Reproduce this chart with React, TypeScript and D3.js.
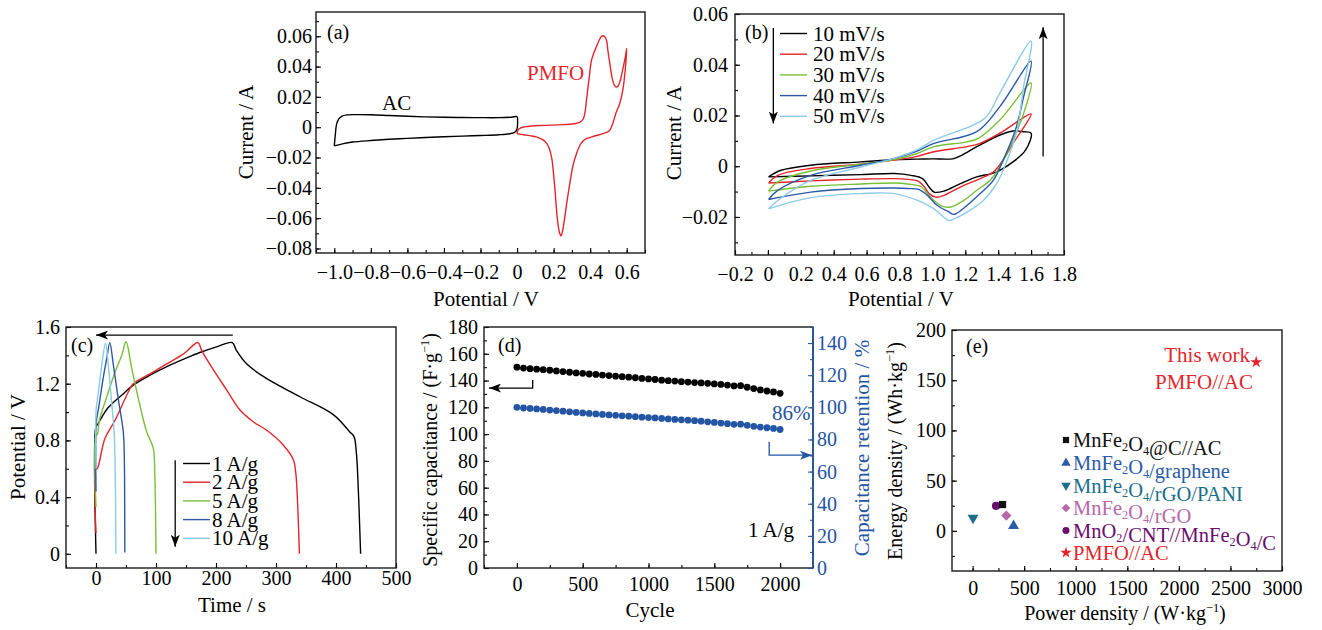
import React, { useEffect, useRef } from "react";
import * as d3 from "d3";

const FONT = "'Liberation Serif', 'Times New Roman', Times, serif";
const RED = "#e3262b";
const GREEN = "#7abf3a";
const BLUE = "#2b58a8";
const LIGHT = "#8ccbe8";
const DBLUE = "#2454a4";

// (a) CV of the single electrodes
const acV = [-1.0, -0.995, -0.987, -0.975, -0.96, -0.93, -0.88, -0.8, -0.7, -0.6, -0.5, -0.4, -0.3, -0.2, -0.1, -0.03, 0.0, 0.003, 0.0, -0.01, -0.04, -0.1, -0.2, -0.3, -0.4, -0.5, -0.6, -0.7, -0.8, -0.9, -0.95, -1.0];
const acI = [-0.0123, -0.006, 0.0022, 0.0055, 0.0072, 0.0081, 0.0083, 0.0082, 0.0077, 0.0072, 0.0068, 0.0066, 0.0064, 0.0063, 0.0063, 0.0066, 0.0069, 0.004, -0.001, -0.0032, -0.0043, -0.005, -0.0055, -0.0059, -0.0063, -0.0068, -0.0074, -0.008, -0.0088, -0.0098, -0.0108, -0.0123];
const pmfoV = [0.0, 0.005, 0.02, 0.04, 0.08, 0.15, 0.25, 0.32, 0.345, 0.362, 0.372, 0.38, 0.393, 0.407, 0.42, 0.434, 0.448, 0.461, 0.47, 0.479, 0.49, 0.497, 0.51, 0.521, 0.532, 0.542, 0.552, 0.565, 0.58, 0.592, 0.6, 0.592, 0.579, 0.56, 0.542, 0.525, 0.506, 0.47, 0.42, 0.38, 0.36, 0.344, 0.325, 0.307, 0.29, 0.271, 0.258, 0.248, 0.24, 0.233, 0.226, 0.217, 0.208, 0.199, 0.19, 0.175, 0.163, 0.14, 0.108, 0.07, 0.036, 0.01, 0.0];
const pmfoI = [-0.0043, -0.002, -0.0005, 0.0002, 0.0008, 0.0012, 0.0017, 0.0024, 0.0034, 0.0054, 0.01, 0.018, 0.031, 0.044, 0.049, 0.053, 0.057, 0.0598, 0.0603, 0.0598, 0.057, 0.0506, 0.04, 0.032, 0.0278, 0.0265, 0.027, 0.031, 0.039, 0.046, 0.052, 0.038, 0.0248, 0.015, 0.0097, 0.003, -0.0022, -0.0043, -0.006, -0.0076, -0.0092, -0.0119, -0.0175, -0.0248, -0.036, -0.0507, -0.062, -0.069, -0.0718, -0.07, -0.0658, -0.056, -0.042, -0.03, -0.0205, -0.0135, -0.0108, -0.0082, -0.0065, -0.0056, -0.005, -0.0045, -0.0043];
const aXTicks = [-1.0, -0.8, -0.6, -0.4, -0.2, 0, 0.2, 0.4, 0.6];
const aYTicks = [-0.08, -0.06, -0.04, -0.02, 0, 0.02, 0.04, 0.06];

// (b) CV of the device at several scan rates
const cvRates = ["10 mV/s", "20 mV/s", "30 mV/s", "40 mV/s", "50 mV/s"];
const cv10V = [0.004, 0.08, 0.26, 0.565, 0.767, 0.9, 1.0, 1.13, 1.18, 1.27, 1.41, 1.49, 1.555, 1.6, 1.566, 1.49, 1.41, 1.36, 1.27, 1.17, 1.07, 1.01, 0.98, 0.94, 0.87, 0.77, 0.565, 0.26, 0.004];
const cv10I = [-0.0042, -0.0016, 0.0004, 0.0017, 0.0026, 0.0028, 0.0029, 0.003, 0.0044, 0.0077, 0.0123, 0.0139, 0.0136, 0.013, 0.0063, 0.0017, -0.0016, -0.0029, -0.0042, -0.0069, -0.0098, -0.0102, -0.0082, -0.0049, -0.0036, -0.0029, -0.0033, -0.0038, -0.0042];
const cv20V = [0.004, 0.06, 0.26, 0.565, 0.767, 0.9, 1.01, 1.21, 1.29, 1.41, 1.6, 1.545, 1.49, 1.43, 1.37, 1.29, 1.17, 1.07, 1.02, 0.98, 0.95, 0.91, 0.85, 0.77, 0.565, 0.26, 0.004];
const cv20I = [-0.0066, -0.0036, -0.0009, 0.0008, 0.0024, 0.0038, 0.0057, 0.0077, 0.009, 0.013, 0.0206, 0.0143, 0.009, 0.0024, -0.0023, -0.0049, -0.0082, -0.0115, -0.0122, -0.0108, -0.008, -0.0058, -0.0052, -0.0049, -0.0051, -0.0058, -0.0066];
const cv30V = [0.004, 0.06, 0.26, 0.565, 0.767, 0.9, 1.01, 1.21, 1.28, 1.41, 1.6, 1.555, 1.49, 1.41, 1.35, 1.27, 1.19, 1.11, 1.05, 1.01, 0.97, 0.93, 0.85, 0.77, 0.565, 0.26, 0.004];
const cv30I = [-0.0098, -0.0062, -0.0019, 0.0008, 0.0026, 0.0048, 0.0077, 0.0096, 0.011, 0.0182, 0.0328, 0.0209, 0.0103, -0.0003, -0.0056, -0.0095, -0.0135, -0.0161, -0.0155, -0.0135, -0.0108, -0.008, -0.007, -0.0066, -0.007, -0.0079, -0.0098];
const cv40V = [0.004, 0.06, 0.26, 0.565, 0.767, 0.9, 1.01, 1.27, 1.41, 1.6, 1.555, 1.505, 1.43, 1.37, 1.29, 1.21, 1.13, 1.1, 1.03, 0.97, 0.92, 0.85, 0.77, 0.565, 0.26, 0.004];
const cv40I = [-0.0131, -0.0095, -0.0036, 0.0004, 0.0031, 0.0058, 0.009, 0.0136, 0.0235, 0.0414, 0.0275, 0.0143, 0.0024, -0.0056, -0.0108, -0.0155, -0.019, -0.018, -0.0155, -0.0115, -0.0092, -0.0088, -0.0086, -0.0088, -0.0102, -0.0131];
const cv50V = [0.004, 0.06, 0.26, 0.565, 0.767, 0.9, 1.01, 1.25, 1.33, 1.41, 1.6, 1.555, 1.515, 1.455, 1.39, 1.31, 1.21, 1.13, 1.1, 1.07, 1.01, 0.91, 0.77, 0.565, 0.26, 0.004];
const cv50I = [-0.0168, -0.0135, -0.0056, -0.0003, 0.0031, 0.0062, 0.0103, 0.0163, 0.0196, 0.0288, 0.0493, 0.0315, 0.0143, 0.0024, -0.0069, -0.0135, -0.0181, -0.0208, -0.0214, -0.0201, -0.0168, -0.0135, -0.0108, -0.0108, -0.0124, -0.0168];
const bXTicks = [-0.2, 0, 0.2, 0.4, 0.6, 0.8, 1.0, 1.2, 1.4, 1.6, 1.8];
const bYTicks = [-0.02, 0, 0.02, 0.04, 0.06];

// (c) galvanostatic charge/discharge
const gcdLabels = ["1 A/g", "2 A/g", "5 A/g", "8 A/g", "10 A/g"];
const gcd1T = [0, 0, 2, 20, 43, 62, 90, 118, 150, 173, 201, 227, 234, 251, 284, 340, 396, 423, 430, 434, 437, 441];
const gcd1V = [0, 0.9, 0.91, 1.03, 1.12, 1.19, 1.26, 1.32, 1.38, 1.42, 1.46, 1.49, 1.435, 1.34, 1.237, 1.108, 0.98, 0.86, 0.827, 0.71, 0.475, 0];
const gcd2T = [0, 0, 2, 15, 32, 54, 62, 90, 118, 146, 170, 176, 196, 218, 240, 262, 284, 312, 329, 333, 336, 339];
const gcd2V = [0.145, 0.6, 0.6, 0.815, 0.944, 1.143, 1.2, 1.27, 1.34, 1.41, 1.49, 1.435, 1.295, 1.155, 1.014, 0.932, 0.873, 0.768, 0.663, 0.569, 0.358, 0];
const gcd5T = [0, 0, 2, 6, 15, 32, 43, 50, 59.5, 70.5, 84.5, 95.5, 98, 100];
const gcd5V = [0.33, 0.838, 0.84, 0.95, 1.07, 1.284, 1.4, 1.496, 1.31, 1.097, 0.86, 0.744, 0.556, 0];
const gcd8T = [0, 0, 1.5, 4, 12, 18, 23, 29, 37, 45.5, 47, 48];
const gcd8V = [0.44, 0.9, 0.96, 1.02, 1.24, 1.38, 1.49, 1.33, 1.097, 0.86, 0.72, 0.01];
const gcd10T = [0, 0, 2, 4, 9.5, 16, 20.5, 26, 30.5, 33];
const gcd10V = [0.6, 1.0, 1.08, 1.14, 1.33, 1.485, 1.33, 1.07, 0.84, 0];
const cXTicks = [0, 100, 200, 300, 400, 500];
const cYTicks = [0, 0.4, 0.8, 1.2, 1.6];

// (d) cycling stability
const cycles = [0, 50, 100, 150, 200, 250, 300, 350, 400, 450, 500, 550, 600, 650, 700, 750, 800, 850, 900, 950, 1000, 1050, 1100, 1150, 1200, 1250, 1300, 1350, 1400, 1450, 1500, 1550, 1600, 1650, 1700, 1750, 1800, 1850, 1900, 1950, 2000];
const capacitance = [150, 149.3, 148.9, 148.5, 148.1, 147.7, 147.2, 146.7, 146.2, 145.7, 145.4, 144.9, 144.6, 144.1, 143.7, 143.3, 142.9, 142.5, 142.1, 141.6, 141.2, 140.8, 140.3, 139.9, 139.6, 139.2, 138.9, 138.5, 138.2, 137.9, 137.5, 137.1, 136.6, 136.0, 136.2, 135.0, 134.0, 133.0, 132.2, 131.5, 130.5];
const retention = [100, 99.6, 99.3, 99.0, 98.7, 98.3, 98.0, 97.6, 97.2, 96.8, 96.5, 96.2, 95.9, 95.6, 95.3, 95.0, 94.7, 94.5, 94.2, 93.9, 93.6, 93.4, 93.1, 92.8, 92.5, 92.2, 92.0, 91.7, 91.4, 91.0, 90.6, 90.2, 89.8, 89.4, 89.5, 88.8, 88.2, 87.7, 87.3, 86.9, 86.2];
const dXTicks = [0, 500, 1000, 1500, 2000];
const dYTicks = [0, 20, 40, 60, 80, 100, 120, 140, 160, 180];
const dY2Ticks = [0, 20, 40, 60, 80, 100, 120, 140];

// (e) Ragone plot
const ragoneLabels = ["MnFe_2O_4@C//AC", "MnFe_2O_4/graphene", "MnFe_2O_4/rGO/PANI", "MnFe_2O_4/rGO", "MnO_2/CNT//MnFe_2O_4/C", "PMFO//AC"];
const ragonePower = [290, 397, 4, 327, 227, 2750];
const ragoneEnergy = [26.2, 4.9, 12.9, 15.2, 24.8, 168];
const ragoneColors = ["#111111", "#2a5ca8", "#1b6f8c", "#b569a9", "#6a0d6d", RED];
const ragoneShapes = ["square", "up", "down", "diamond", "circle", "star"];
const eXTicks = [0, 500, 1000, 1500, 2000, 2500, 3000];
const eYTicks = [0, 50, 100, 150, 200];

const fmt = (digits: number) => (d: any) => {
  const v = +d;
  if (Math.abs(v) < 1e-9) return "0";
  return (v < 0 ? "\u2212" : "") + Math.abs(v).toFixed(digits);
};

function symbolPath(shape: string, size: number) {
  const map: any = {
    square: d3.symbolSquare,
    up: d3.symbolTriangle,
    down: d3.symbolTriangle,
    diamond: d3.symbolSquare,
    circle: d3.symbolCircle,
    star: d3.symbolStar,
  };
  return d3.symbol().type(map[shape]).size(size)() as string;
}
function symbolRotate(shape: string) {
  if (shape === "down") return 180;
  if (shape === "diamond") return 45;
  return 0;
}

function text(g: any, x: number, y: number, s: string, o: any = {}) {
  return g
    .append("text")
    .attr("x", x)
    .attr("y", y)
    .attr("font-family", FONT)
    .attr("font-size", o.size || 21)
    .attr("fill", o.color || "#000")
    .attr("text-anchor", o.anchor || "start")
    .text(s);
}

// title ending in a "-1" superscript and a closing bracket
function supTitle(g: any, tx: number, ty: number, rot: boolean, head: string, color = "#000", size = 21) {
  const t = g
    .append("text")
    .attr("transform", `translate(${tx},${ty})${rot ? " rotate(-90)" : ""}`)
    .attr("text-anchor", "middle")
    .attr("font-family", FONT)
    .attr("font-size", size)
    .attr("fill", color);
  t.append("tspan").text(head);
  t.append("tspan").attr("font-size", size * 0.62).attr("dy", -size * 0.38).text("\u22121");
  t.append("tspan").attr("dy", size * 0.38).text(")");
  return t;
}

function plainTitle(g: any, tx: number, ty: number, rot: boolean, s: string, color = "#000", size = 21) {
  return g
    .append("text")
    .attr("transform", `translate(${tx},${ty})${rot ? " rotate(-90)" : ""}`)
    .attr("text-anchor", "middle")
    .attr("font-family", FONT)
    .attr("font-size", size)
    .attr("fill", color)
    .text(s);
}

function subText(g: any, x: number, y: number, s: string, color: string, size = 21) {
  const t = g.append("text").attr("x", x).attr("y", y).attr("font-family", FONT).attr("font-size", size).attr("fill", color);
  const parts = s.split(/_(\d)/);
  parts.forEach((p, i) => {
    if (!p) return;
    if (i % 2 === 1) {
      t.append("tspan").attr("font-size", size * 0.6).attr("dy", size * 0.2).text(p);
      t.append("tspan").attr("dy", -size * 0.2).text("");
    } else {
      t.append("tspan").text(p);
    }
  });
}

function panel(root: any, f: any, o: any) {
  const g = root.append("g");
  const x = d3.scaleLinear().domain(o.xDomain).range([f.l, f.r]);
  const y = d3.scaleLinear().domain(o.yDomain).range([f.b, f.t]);
  const style = (s: any) => s.attr("font-size", 20).attr("font-family", FONT).style("color", "#000");

  g.append("g")
    .attr("transform", `translate(0,${f.b})`)
    .call(d3.axisBottom(x).tickValues(o.xMinor).tickSize(-3).tickFormat(() => ""));
  g.append("g")
    .attr("transform", `translate(0,${f.b})`)
    .call(d3.axisBottom(x).tickValues(o.xTicks).tickSize(-5).tickPadding(o.xPad).tickFormat(o.xFmt))
    .call(style);
  g.append("g")
    .attr("transform", `translate(${f.l},0)`)
    .call(d3.axisLeft(y).tickValues(o.yMinor).tickSize(-3).tickFormat(() => ""));
  g.append("g")
    .attr("transform", `translate(${f.l},0)`)
    .call(d3.axisLeft(y).tickValues(o.yTicks).tickSize(-5).tickPadding(o.yPad).tickFormat(o.yFmt))
    .call(style);
  g.selectAll(".domain").remove();
  g.selectAll(".tick line").attr("stroke-width", 1.1);

  g.append("rect")
    .attr("x", f.l)
    .attr("y", f.t)
    .attr("width", f.r - f.l)
    .attr("height", f.b - f.t)
    .attr("fill", "none")
    .attr("stroke", "#1a1a1a")
    .attr("stroke-width", 1.4);
  return { g, x, y };
}

const range = (a: number, b: number, s: number) => d3.range(a, b + s / 2, s);

export default function App() {
  const ref = useRef<SVGSVGElement>(null);

  useEffect(() => {
    const svg = d3.select(ref.current);
    svg.selectAll("*").remove();
    svg.append("rect").attr("width", 1322).attr("height", 630).attr("fill", "#fff");

    const defs = svg.append("defs");
    [["ahk", "#000"], ["ahb", DBLUE]].forEach(([id, c]) => {
      defs
        .append("marker")
        .attr("id", id)
        .attr("viewBox", "0 0 12 9")
        .attr("refX", 12)
        .attr("refY", 4.5)
        .attr("markerWidth", 12)
        .attr("markerHeight", 9)
        .attr("markerUnits", "userSpaceOnUse")
        .attr("orient", "auto")
        .append("path")
        .attr("d", "M0,0L12,4.5L0,9L3,4.5Z")
        .attr("fill", c);
    });

    const arrow = (g: any, pts: [number, number][], color: string, id: string) =>
      g
        .append("path")
        .attr("d", d3.line()(pts))
        .attr("fill", "none")
        .attr("stroke", color)
        .attr("stroke-width", 1.3)
        .attr("marker-end", `url(#${id})`);

    const curve = d3.curveCatmullRom.alpha(0.5);
    const drawLine = (g: any, x: any, y: any, xs: number[], ys: number[], color: string, w = 1.4) =>
      g
        .append("path")
        .datum(d3.zip(xs, ys))
        .attr("d", d3.line<number[]>().x((d) => x(d[0])).y((d) => y(d[1])).curve(curve))
        .attr("fill", "none")
        .attr("stroke", color)
        .attr("stroke-width", w)
        .attr("stroke-linejoin", "round");

    // ---------- (a)
    {
      const { g, x, y } = panel(svg, { l: 316, r: 645, t: 12, b: 253 }, {
        xDomain: [-1.1, 0.7], yDomain: [-0.083, 0.076],
        xTicks: aXTicks, xMinor: range(-1.1, 0.7, 0.1), yTicks: aYTicks, yMinor: range(-0.08, 0.07, 0.01),
        xFmt: fmt(1), yFmt: fmt(2), xPad: 12, yPad: 4,
      });
      drawLine(g, x, y, acV, acI, "#000");
      drawLine(g, x, y, pmfoV, pmfoI, RED);
      text(g, 327, 39, "(a)", { size: 20 });
      text(g, 382, 110, "AC");
      text(g, 527, 80, "PMFO", { color: RED });
      plainTitle(g, 486, 306, false, "Potential / V");
      plainTitle(g, 253, 132, true, "Current / A");
    }

    // ---------- (b)
    {
      const { g, x, y } = panel(svg, { l: 735, r: 1064, t: 14, b: 255 }, {
        xDomain: [-0.2, 1.8], yDomain: [-0.035, 0.06],
        xTicks: bXTicks, xMinor: range(-0.2, 1.8, 0.1), yTicks: bYTicks, yMinor: range(-0.03, 0.06, 0.01),
        xFmt: fmt(1), yFmt: fmt(2), xPad: 12, yPad: 7,
      });
      const loops = [[cv10V, cv10I], [cv20V, cv20I], [cv30V, cv30I], [cv40V, cv40I], [cv50V, cv50I]];
      const colors = ["#000", RED, GREEN, BLUE, LIGHT];
      loops.forEach(([v, i], k) => drawLine(g, x, y, v, i, colors[k]));
      cvRates.forEach((r, k) => {
        const cy = 33.5 + k * 20.7;
        g.append("line").attr("x1", 780).attr("x2", 807).attr("y1", cy).attr("y2", cy).attr("stroke", colors[k]).attr("stroke-width", 1.4);
        text(g, 813, cy + 7, r);
      });
      arrow(g, [[x(0.033), y(0.0545)], [x(0.033), y(0.0168)]], "#000", "ahk");
      arrow(g, [[x(1.673), y(0.0038)], [x(1.673), y(0.0548)]], "#000", "ahk");
      text(g, 745, 39, "(b)", { size: 20 });
      plainTitle(g, 901, 306, false, "Potential / V");
      plainTitle(g, 681, 133, true, "Current / A");
    }

    // ---------- (c)
    {
      const { g, x, y } = panel(svg, { l: 66, r: 396, t: 327, b: 568 }, {
        xDomain: [-50, 500], yDomain: [-0.1, 1.6],
        xTicks: cXTicks, xMinor: range(-50, 500, 50), yTicks: cYTicks, yMinor: range(0, 1.6, 0.2),
        xFmt: fmt(0), yFmt: fmt(1), xPad: 3, yPad: 6,
      });
      const runs = [[gcd1T, gcd1V], [gcd2T, gcd2V], [gcd5T, gcd5V], [gcd8T, gcd8V], [gcd10T, gcd10V]];
      const colors = ["#000", RED, GREEN, BLUE, LIGHT];
      runs.forEach(([t, v], k) => drawLine(g, x, y, t, v, colors[k]));
      gcdLabels.forEach((s, k) => {
        const cy = 463.5 + k * 18.7;
        g.append("line").attr("x1", 183).attr("x2", 210).attr("y1", cy).attr("y2", cy).attr("stroke", colors[k]).attr("stroke-width", 1.4);
        text(g, 212, cy + 7, s);
      });
      arrow(g, [[x(228), y(1.543)], [x(0), y(1.543)]], "#000", "ahk");
      arrow(g, [[x(132), y(0.66)], [x(132), y(0.05)]], "#000", "ahk");
      text(g, 71, 352, "(c)", { size: 20 });
      plainTitle(g, 232, 612, false, "Time / s");
      plainTitle(g, 25, 447, true, "Potential / V");
    }

    // ---------- (d)
    {
      const f = { l: 484, r: 813, t: 327, b: 568 };
      const { g, x, y } = panel(svg, f, {
        xDomain: [-250, 2250], yDomain: [0, 180],
        xTicks: dXTicks, xMinor: range(-250, 2250, 250), yTicks: dYTicks, yMinor: range(0, 180, 10),
        xFmt: fmt(0), yFmt: fmt(0), xPad: 9, yPad: 6,
      });
      const y2 = d3.scaleLinear().domain([0, 150]).range([f.b, f.t]);
      g.append("g")
        .attr("transform", `translate(${f.r},0)`)
        .call(d3.axisRight(y2).tickValues(range(0, 150, 10)).tickSize(-3).tickFormat(() => ""))
        .style("color", DBLUE);
      g.append("g")
        .attr("transform", `translate(${f.r},0)`)
        .call(d3.axisRight(y2).tickValues(dY2Ticks).tickSize(-5).tickPadding(4).tickFormat(fmt(0)))
        .attr("font-size", 20)
        .attr("font-family", FONT)
        .style("color", DBLUE);
      g.selectAll(".domain").remove();
      g.append("line").attr("x1", f.r).attr("x2", f.r).attr("y1", f.t).attr("y2", f.b).attr("stroke", DBLUE).attr("stroke-width", 1.6);

      g.append("g")
        .selectAll("circle")
        .data(d3.zip(cycles, capacitance))
        .join("circle")
        .attr("cx", (d: number[]) => x(d[0]))
        .attr("cy", (d: number[]) => y(d[1]))
        .attr("r", 3.4)
        .attr("fill", "#000");
      g.append("g")
        .selectAll("circle")
        .data(d3.zip(cycles, retention))
        .join("circle")
        .attr("cx", (d: number[]) => x(d[0]))
        .attr("cy", (d: number[]) => y2(d[1]))
        .attr("r", 3.4)
        .attr("fill", DBLUE);

      arrow(g, [[x(120), y(140.5)], [x(120), y(134.4)], [x(-212), y(134.4)]], "#000", "ahk");
      arrow(g, [[x(1917), y2(78.6)], [x(1917), y2(70.2)], [x(2243), y2(70.2)]], DBLUE, "ahb");
      text(g, 498, 352, "(d)", { size: 20 });
      text(g, 772, 420, "86%", { color: DBLUE });
      text(g, 748, 537, "1 A/g");
      plainTitle(g, 650, 617, false, "Cycle");
      supTitle(g, 437, 450, true, "Specific capacitance / (F\u00b7g", "#000", 20);
      plainTitle(g, 869, 448, true, "Capacitance retention / %", DBLUE, 21);
    }

    // ---------- (e)
    {
      const { g, x, y } = panel(svg, { l: 952, r: 1282, t: 330, b: 571 }, {
        xDomain: [-200, 3000], yDomain: [-40, 200],
        xTicks: eXTicks, xMinor: range(0, 3000, 250), yTicks: eYTicks, yMinor: range(-25, 200, 25),
        xFmt: fmt(0), yFmt: fmt(0), xPad: 10, yPad: 6,
      });
      const order = d3.range(ragoneLabels.length).reverse();
      order.forEach((k) => {
        const sh = ragoneShapes[k];
        g.append("path")
          .attr("d", symbolPath(sh, sh === "star" ? 45 : 52))
          .attr("transform", `translate(${x(ragonePower[k])},${y(ragoneEnergy[k])}) rotate(${symbolRotate(sh)})`)
          .attr("fill", ragoneColors[k]);
      });
      const rows = [440, 463, 485.5, 508, 530.5, 552.7];
      ragoneLabels.forEach((s, k) => {
        const sh = ragoneShapes[k];
        g.append("path")
          .attr("d", symbolPath(sh, sh === "star" ? 40 : 38))
          .attr("transform", `translate(1066,${rows[k]}) rotate(${symbolRotate(sh)})`)
          .attr("fill", ragoneColors[k]);
        subText(g, 1073, rows[k] + 7, s, ragoneColors[k], 20.5);
      });
      text(g, 1250, 362, "This work", { color: RED, anchor: "end" });
      text(g, 1253, 389, "PMFO//AC", { color: RED, anchor: "end" });
      text(g, 966, 353, "(e)", { size: 20 });
      supTitle(g, 1125, 620, false, "Power density / (W\u00b7kg", "#000", 20);
      supTitle(g, 902, 451, true, "Energy density / (Wh\u00b7kg", "#000", 20);
    }
  }, []);

  return <svg ref={ref} width={1322} height={630} style={{ position: "absolute", left: 0, top: 0 }} />;
}
